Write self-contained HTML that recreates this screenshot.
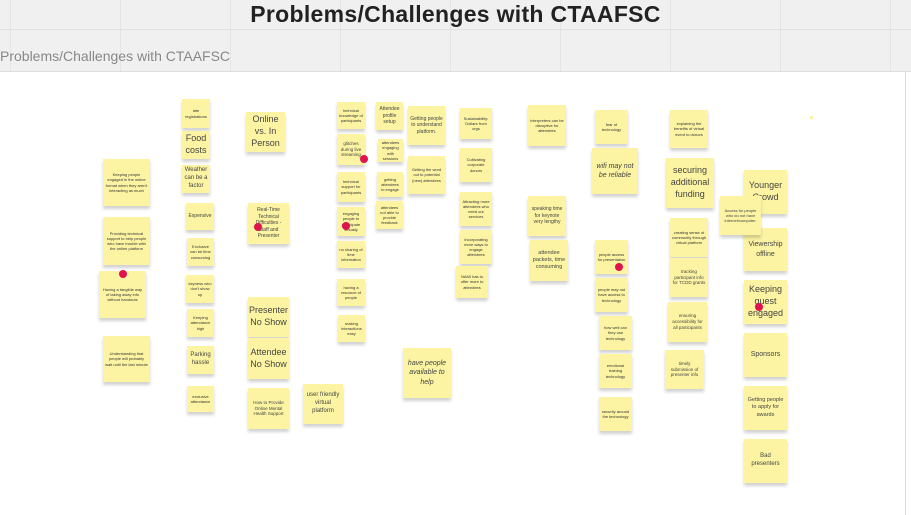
<!DOCTYPE html>
<html><head><meta charset="utf-8"><style>
body{margin:0;width:911px;height:515px;overflow:hidden;background:#fff;font-family:"Liberation Sans",sans-serif;position:relative}
.hdr{position:absolute;left:0;top:0;width:911px;height:71px;background:#f0f0f0;border-bottom:1px solid #ddd;
background-image:linear-gradient(90deg,#e4e4e4 1px,transparent 1px);background-size:110px 100%;background-position:10px 0}
.hl{position:absolute;left:0;top:29px;width:911px;height:1px;background:#e2e2e2}
.t{position:absolute;left:0;width:911px;top:0;text-align:center;font-size:23px;font-weight:bold;color:#222;line-height:29px;letter-spacing:0.3px}
.st{position:absolute;left:0;top:48px;font-size:14px;color:#888}
.rb{position:absolute;left:905px;top:72px;width:1px;height:443px;background:#ddd}
.n{position:absolute;background:#fcf4a2;box-shadow:0 3px 3px rgba(0,0,0,0.18);display:flex;align-items:center;justify-content:center;text-align:center;color:#444;font-size:3px;line-height:1.3;overflow:hidden;box-sizing:border-box;padding:2px}
.d{position:absolute;width:8px;height:8px;border-radius:50%;background:#e0134f}
.m{font-size:8px;color:#333}.l{font-size:9px;color:#444}.x{font-size:4px;color:#333}
</style></head><body>
<div class="hdr"></div><div class="hl"></div>
<div class="t">Problems/Challenges with CTAAFSC</div>
<div class="st">Problems/Challenges with CTAAFSC</div>
<div class="rb"></div>

<div class="n x" style="left:103px;top:159px;width:47px;height:47px">Keeping people engaged in the online format when they aren't interacting as much</div>
<div class="n x" style="left:103px;top:217px;width:47px;height:48px">Providing technical support to help people who have trouble with the online platform</div>
<div class="n x" style="left:99px;top:271px;width:47px;height:47px">Having a tangible way of taking away info without handouts</div>
<div class="n x" style="left:103px;top:336px;width:47px;height:46px">Understanding that people will probably wait until the last minute</div>

<div class="n x" style="left:182px;top:99px;width:28px;height:29px">late registrations</div>
<div class="n l" style="left:182px;top:131px;width:28px;height:28px">Food costs</div>
<div class="n" style="left:182px;top:165px;width:28px;height:28px;font-size:6px">Weather can be a factor</div>
<div class="n" style="left:186px;top:203px;width:28px;height:27px;font-size:5px">Expensive</div>
<div class="n x" style="left:187px;top:238px;width:27px;height:28px">Exclusive can be time consuming</div>
<div class="n x" style="left:186px;top:275px;width:28px;height:28px">keyness who don't show up</div>
<div class="n x" style="left:187px;top:309px;width:27px;height:28px">Keeping attendance high</div>
<div class="n" style="left:187px;top:346px;width:27px;height:28px;font-size:6px">Parking hassle</div>
<div class="n x" style="left:187px;top:386px;width:27px;height:26px">exclusive attendance</div>

<div class="n l" style="left:246px;top:112px;width:39px;height:40px">Online vs. In Person</div>
<div class="n" style="left:248px;top:203px;width:41px;height:41px;font-size:5px">Real-Time Technical Difficulties - Staff and Presenter</div>
<div class="n l" style="left:248px;top:297px;width:41px;height:40px">Presenter No Show</div>
<div class="n l" style="left:248px;top:338px;width:41px;height:41px">Attendee No Show</div>
<div class="n" style="left:248px;top:388px;width:41px;height:41px;font-size:4.5px">How to Provide Online Mental Health Support</div>
<div class="n" style="left:303px;top:384px;width:40px;height:40px;font-size:6px">user friendly virtual platform</div>

<div class="n x" style="left:337px;top:102px;width:28px;height:27px">technical knowledge of participants</div>
<div class="n" style="left:337px;top:134px;width:28px;height:31px;font-size:4.5px">glitches during live streaming</div>
<div class="n x" style="left:337px;top:172px;width:28px;height:30px">technical support for participants</div>
<div class="n x" style="left:337px;top:207px;width:28px;height:29px">engaging people to participate virtually</div>
<div class="n x" style="left:337px;top:241px;width:28px;height:27px">no sharing of time information</div>
<div class="n x" style="left:337px;top:279px;width:28px;height:27px">having a resource of people</div>
<div class="n x" style="left:338px;top:315px;width:27px;height:27px">making interactions easy</div>

<div class="n" style="left:376px;top:102px;width:27px;height:28px;font-size:5px">Attendee profile setup</div>
<div class="n x" style="left:378px;top:139px;width:25px;height:23px">attendees engaging with sessions</div>
<div class="n x" style="left:377px;top:172px;width:26px;height:25px">getting attendees to engage</div>
<div class="n x" style="left:376px;top:201px;width:27px;height:28px">attendees not able to provide feedback</div>

<div class="n" style="left:408px;top:106px;width:37px;height:39px;font-size:5px">Getting people to understand platform.</div>
<div class="n x" style="left:408px;top:156px;width:37px;height:38px">Getting the word out to potential (new) attendees</div>
<div class="n" style="left:403px;top:348px;width:48px;height:50px;font-size:7px;font-style:italic">have people available to help</div>

<div class="n x" style="left:460px;top:108px;width:32px;height:31px">Sustainability: Dollars from orgs</div>
<div class="n x" style="left:460px;top:148px;width:32px;height:34px">Cultivating corporate donors</div>
<div class="n x" style="left:460px;top:192px;width:32px;height:34px">Attracting more attendees who need our services</div>
<div class="n x" style="left:460px;top:230px;width:32px;height:34px">Incorporating more ways to engage attendees</div>
<div class="n x" style="left:456px;top:266px;width:32px;height:32px">NAMI has to offer more to attendees</div>

<div class="n x" style="left:528px;top:105px;width:38px;height:41px">interpreters can be disruptive for attendees</div>
<div class="n" style="left:528px;top:196px;width:38px;height:40px;font-size:5px">speaking time for keynote very lengthy</div>
<div class="n" style="left:530px;top:240px;width:38px;height:41px;font-size:5.5px">attendee packets, time consuming</div>

<div class="n x" style="left:595px;top:110px;width:33px;height:34px">fear of technology</div>
<div class="n" style="left:592px;top:148px;width:46px;height:46px;font-size:7px;font-style:italic">wifi may not be reliable</div>
<div class="n x" style="left:595px;top:240px;width:33px;height:34px">people access for presentation</div>
<div class="n x" style="left:595px;top:278px;width:33px;height:34px">people may not have access to technology</div>
<div class="n x" style="left:599px;top:316px;width:33px;height:34px">how well can they use technology</div>
<div class="n x" style="left:599px;top:354px;width:33px;height:34px">emotional training technology</div>
<div class="n x" style="left:599px;top:397px;width:33px;height:34px">security around the technology</div>

<div class="n x" style="left:670px;top:110px;width:38px;height:38px">explaining the benefits of virtual event to donors</div>
<div class="n l" style="left:666px;top:158px;width:48px;height:50px">securing additional funding</div>
<div class="n x" style="left:670px;top:218px;width:38px;height:39px">creating sense of community through virtual platform</div>
<div class="n" style="left:670px;top:258px;width:38px;height:39px;font-size:4.5px">tracking participant info for TCDD grants</div>
<div class="n" style="left:668px;top:302px;width:39px;height:40px;font-size:4.5px">ensuring accessibility for all participants</div>
<div class="n" style="left:665px;top:350px;width:39px;height:39px;font-size:4.5px">timely submission of presenter info</div>

<div class="n l" style="left:744px;top:170px;width:43px;height:44px">Younger Crowd</div>
<div class="n l" style="left:744px;top:228px;width:43px;height:43px;font-size:7px">Viewership offline</div>
<div class="n l" style="left:744px;top:280px;width:43px;height:44px">Keeping guest engaged</div>
<div class="n" style="left:744px;top:333px;width:43px;height:44px;font-size:7px">Sponsors</div>
<div class="n" style="left:744px;top:386px;width:43px;height:44px;font-size:5.5px">Getting people to apply for awards</div>
<div class="n" style="left:744px;top:439px;width:43px;height:44px;font-size:6px">Bad presenters</div>
<div class="n" style="left:720px;top:196px;width:41px;height:39px;font-size:4px">Access for people who do not have internet/computer.</div>

<div style="position:absolute;left:810px;top:116px;width:3px;height:3px;background:#fcf4a2"></div>
<div class="d" style="left:119px;top:270px"></div>
<div class="d" style="left:360px;top:155px"></div>
<div class="d" style="left:254px;top:223px"></div>
<div class="d" style="left:342px;top:222px"></div>
<div class="d" style="left:615px;top:263px"></div>
<div class="d" style="left:755px;top:303px"></div>
</body></html>
